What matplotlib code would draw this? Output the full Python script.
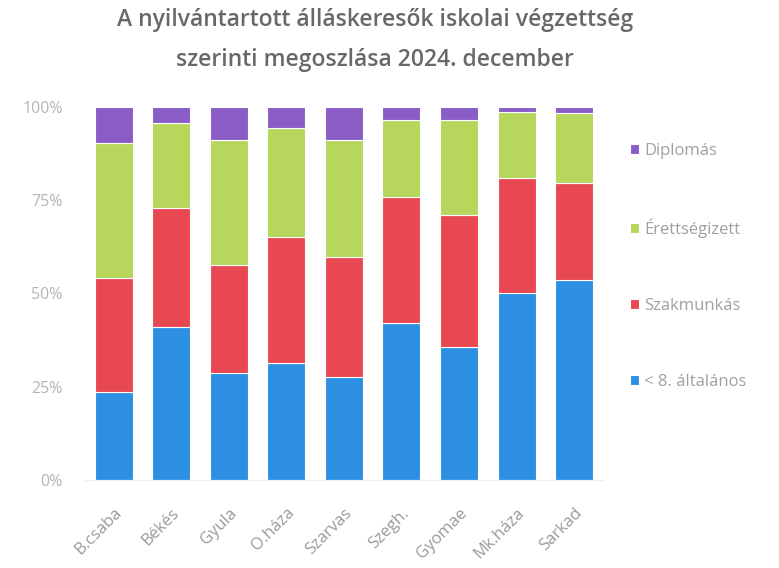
import matplotlib
matplotlib.use("Agg")
import matplotlib.pyplot as plt
import numpy as np

categories = ["B.csaba", "Békés", "Gyula", "O.háza", "Szarvas", "Szegh.", "Gyomae", "Mk.háza", "Sarkad"]
altalanos = [23.6, 41.0, 28.7, 31.4, 27.6, 42.1, 35.7, 50.1, 53.6]
szakmunkas = [30.6, 31.9, 28.9, 33.7, 32.2, 33.8, 35.3, 30.9, 26.0]
erettsegizett = [36.1, 22.8, 33.6, 29.3, 31.4, 20.6, 25.5, 17.7, 18.8]
diplomas = [9.7, 4.3, 8.8, 5.6, 8.8, 3.5, 3.5, 1.3, 1.6]
series_names = ["< 8. általános", "Szakmunkás", "Érettségizett", "Diplomás"]
yticks = [0, 25, 50, 75, 100]
ytick_labels = ["0%", "25%", "50%", "75%", "100%"]

colors = ["#2C8FE2", "#E84852", "#B6D65C", "#8A5CC6"]
plt.rcParams['font.family'] = ['Open Sans', 'DejaVu Sans']

fig = plt.figure(figsize=(7.79, 5.68), dpi=100)
ax = fig.add_axes([0.109, 0.155, 0.665, 0.657])

x = np.arange(len(categories))
bottom = np.zeros(len(categories))
handles = []
for vals, name, c in zip([altalanos, szakmunkas, erettsegizett, diplomas], series_names, colors):
    v = np.array(vals)
    h = ax.bar(x, v, bottom=bottom, width=0.66, color=c, label=name, edgecolor="white", linewidth=0.8)
    handles.append(h)
    bottom += v

ax.set_xlim(-0.5, len(categories) - 0.5)
ax.set_ylim(0, 100)
ax.set_yticks(yticks)
ax.set_yticklabels(ytick_labels, color="#B5B5B5", fontsize=11.5)
ax.set_xticks(x)
ax.set_xticklabels(categories, rotation=45, ha="right", rotation_mode="anchor", color="#9A9A9A", fontsize=12)
for s in ["top", "right", "left"]:
    ax.spines[s].set_visible(False)
ax.spines["bottom"].set_color("#EEEEEE")
ax.tick_params(axis="y", length=0, pad=16)
ax.tick_params(axis="x", length=0, pad=18)

fig.suptitle("A nyilvántartott álláskeresők iskolai végzettség\nszerinti megoszlása 2024. december",
             x=0.481, y=0.986, fontsize=16.5, color="#686868", fontweight="semibold", linespacing=1.9)

leg = ax.legend(handles[::-1], series_names[::-1], loc="upper left", bbox_to_anchor=(1.023, 0.944),
                frameon=False, fontsize=12, labelspacing=3.6, handlelength=0.55, handleheight=0.55,
                handletextpad=0.3, labelcolor="#A0A0A0")

fig.savefig("out.png", dpi=100)
